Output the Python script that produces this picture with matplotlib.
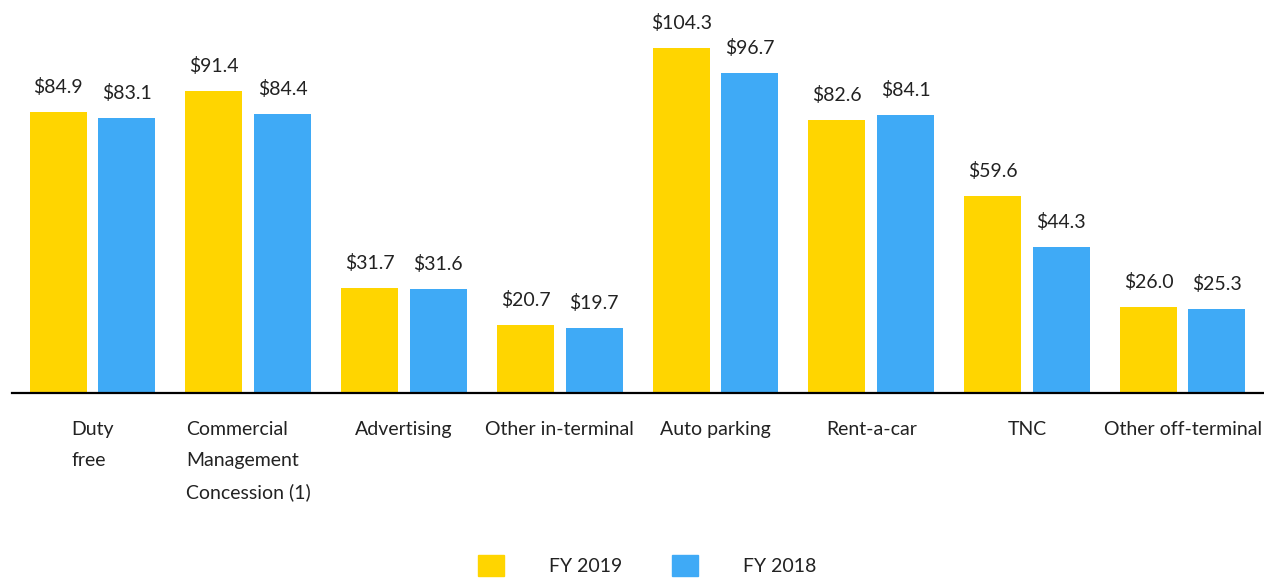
import numpy as np
import matplotlib
matplotlib.use('Agg')
import matplotlib.pyplot as plt
import matplotlib.transforms as mtransforms
from matplotlib.patches import Patch

# 数据
categories = ['Duty\nfree', 'Commercial\nManagement\nConcession (1)', 'Advertising',
              'Other in-terminal', 'Auto parking', 'Rent-a-car', 'TNC', 'Other off-terminal']
fy2019 = [84.9, 91.4, 31.7, 20.7, 104.3, 82.6, 59.6, 26.0]
fy2018 = [83.1, 84.4, 31.6, 19.7, 96.7, 84.1, 44.3, 25.3]
series_names = ['FY 2019', 'FY 2018']

yellow = '#FFD500'
blue = '#3FAAF6'

plt.rcParams['font.family'] = ['Lato', 'DejaVu Sans']
plt.rcParams['font.size'] = 14

fig = plt.figure(figsize=(12.64, 5.81), dpi=100)
ax = fig.add_axes([12 / 1264, 1 - 393 / 581, 1 - 12 / 1264, 393 / 581])

x = np.arange(len(categories))
w = 0.366
off = 0.22

bars1 = ax.bar(x - off, fy2019, width=w, color=yellow)
bars2 = ax.bar(x + off, fy2018, width=w, color=blue)

# 柱顶数值标注
for bars, vals in [(bars1, fy2019), (bars2, fy2018)]:
    for b, v in zip(bars, vals):
        ax.annotate(f'${v:.1f}', (b.get_x() + b.get_width() / 2, v),
                    xytext=(0, 18), textcoords='offset points',
                    ha='center', va='center', color='#222222')

ax.set_xlim(-0.517, 7.522)
ax.set_ylim(0, 393 / 3.305)

# 类别标签（多行左对齐）
trans = mtransforms.blended_transform_factory(ax.transData, ax.transAxes)
for xi, lab in zip(x, categories):
    ax.annotate(lab, (xi, 0), xycoords=trans, xytext=(0, -20),
                textcoords='offset points', ha='center', va='top',
                multialignment='left', linespacing=2.0, color='#222222',
                annotation_clip=False)

ax.set_xticks([])
ax.set_yticks([])

for s in ['top', 'right', 'left']:
    ax.spines[s].set_visible(False)
ax.spines['bottom'].set_linewidth(1.6)
ax.spines['bottom'].set_color('black')

handles = [Patch(color=yellow), Patch(color=blue)]
fig.legend(handles, series_names, loc='center', ncol=2,
           bbox_to_anchor=(647 / 1264, 1 - 565.5 / 581), frameon=False,
           handlelength=1.34, handleheight=1.34, handletextpad=2.3,
           columnspacing=2.55, borderpad=0, labelcolor='#222222')

fig.savefig('out.png', dpi=100)
